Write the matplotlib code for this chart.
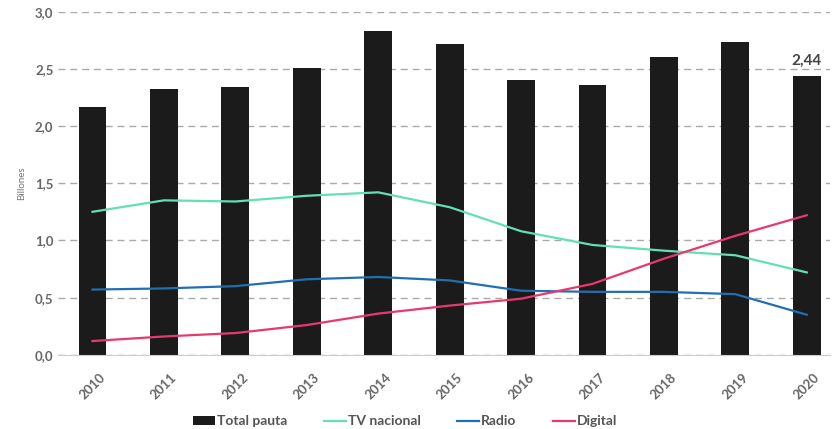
import matplotlib
matplotlib.use("Agg")
import matplotlib.pyplot as plt
import numpy as np

years = ["2010", "2011", "2012", "2013", "2014", "2015", "2016", "2017", "2018", "2019", "2020"]
total_pauta = [2.17, 2.32, 2.34, 2.51, 2.83, 2.72, 2.40, 2.36, 2.60, 2.73, 2.44]
tv_nacional = [1.25, 1.35, 1.34, 1.39, 1.42, 1.29, 1.08, 0.96, 0.91, 0.87, 0.72]
radio = [0.57, 0.58, 0.60, 0.66, 0.68, 0.65, 0.56, 0.55, 0.55, 0.53, 0.35]
digital = [0.12, 0.16, 0.19, 0.26, 0.36, 0.43, 0.49, 0.62, 0.84, 1.04, 1.22]
yticks = [0.0, 0.5, 1.0, 1.5, 2.0, 2.5, 3.0]
ytick_labels = ["0,0", "0,5", "1,0", "1,5", "2,0", "2,5", "3,0"]

plt.rcParams['font.family'] = ['Lato', 'DejaVu Sans']

fig = plt.figure(figsize=(8.32, 4.29), dpi=100)
ax = fig.add_axes([0.07, 0.173, 0.928, 0.80])

x = np.arange(len(years))
ax.bar(x, total_pauta, width=0.39, color="#1b1b1b", label="Total pauta", zorder=2)
ax.plot(x, tv_nacional, color="#62e0b2", lw=1.6, label="TV nacional", zorder=3)
ax.plot(x, radio, color="#1f6fb3", lw=1.6, label="Radio", zorder=3)
ax.plot(x, digital, color="#e8396f", lw=1.6, label="Digital", zorder=3)

ax.annotate("2,44", (x[-1], total_pauta[-1]), xytext=(0, 6), textcoords="offset points",
            ha="center", va="bottom", fontsize=11, fontweight="bold", color="#444444")

ax.set_xlim(-0.48, 10.33)
ax.set_ylim(0, 3.0)
ax.set_yticks(yticks)
ax.set_yticklabels(ytick_labels)
ax.set_xticks(x)
ax.set_xticklabels(years, rotation=45, ha="center", va="top")
ax.tick_params(axis="both", length=0, colors="#666666", labelsize=9.5)
ax.tick_params(axis="x", pad=12)
for lbl in ax.get_xticklabels() + ax.get_yticklabels():
    lbl.set_fontweight("bold")

ax.grid(axis="y", linestyle=(0, (5, 3.5)), color="#aaaaaa", lw=1.0, zorder=0)
for s in ["top", "right", "left"]:
    ax.spines[s].set_visible(False)
ax.spines["bottom"].set_color("#cccccc")
ax.set_ylabel("Billones", fontsize=7, color="#777777", labelpad=6)

handles, labels = ax.get_legend_handles_labels()
order = [3, 0, 1, 2]
leg = fig.legend([handles[i] for i in order], [labels[i] for i in order],
                 loc="lower center", bbox_to_anchor=(0.487, -0.025), ncol=4, frameon=False,
                 fontsize=10, handlelength=1.6, handleheight=0.6, handletextpad=0.15,
                 columnspacing=2.6)
for t in leg.get_texts():
    t.set_fontweight("bold")
    t.set_color("#555555")

fig.savefig("out.png", dpi=100)
